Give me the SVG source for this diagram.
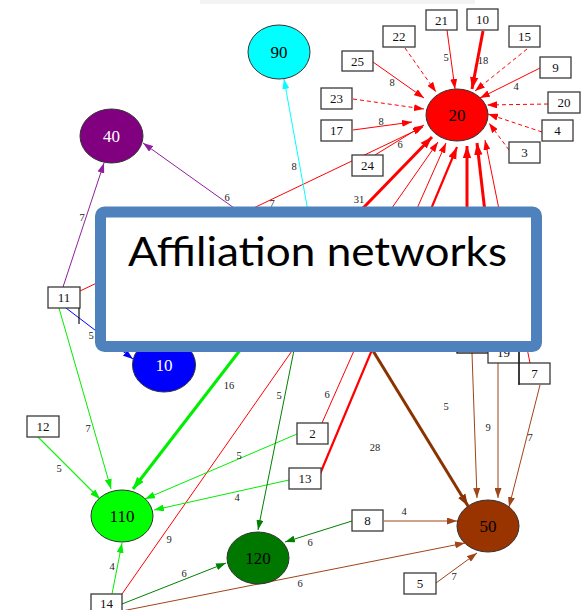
<svg xmlns="http://www.w3.org/2000/svg" width="585" height="610" viewBox="0 0 585 610">
  <style>
    .e { fill: none; stroke-width: 1; }
    .w2 { stroke-width: 2.2; }
    .w3 { stroke-width: 3; }
    .dash { stroke-dasharray: 4 3; }
    .red { stroke: #ff0000; }
    .lime { stroke: #00ee00; }
    .dkg { stroke: #008000; }
    .brn { stroke: #a0441a; }
    .brnt { stroke: #8b3300; }
    .pur { stroke: #8f1f9f; }
    .cya { stroke: #00ffff; }
    .blu { stroke: #0000ff; }
    .el { font-family: "Liberation Serif", "Times New Roman", serif; font-size: 10.5px; fill: #222; text-anchor: middle; }
    .bx rect { fill: #fff; stroke: #3a3a3a; stroke-width: 1.3; }
    .bx text { font-family: "Liberation Serif", "Times New Roman", serif; font-size: 13px; fill: #111; text-anchor: middle; }
    .ov ellipse { stroke: #333; stroke-width: 1; }
    .ov text { font-family: "Liberation Serif", "Times New Roman", serif; font-size: 17px; text-anchor: middle; }
  </style>
  <defs>
    <marker id="a-red" viewBox="0 0 10 7" refX="10" refY="3.5" markerWidth="10" markerHeight="7" markerUnits="userSpaceOnUse" orient="auto"><path d="M0,0L10,3.5L0,7z" fill="#ff0000"/></marker>
    <marker id="a-redT" viewBox="0 0 10 7" refX="10" refY="3.5" markerWidth="12" markerHeight="9" markerUnits="userSpaceOnUse" orient="auto"><path d="M0,0L10,3.5L0,7z" fill="#ff0000"/></marker>
    <marker id="a-lime" viewBox="0 0 10 7" refX="10" refY="3.5" markerWidth="10" markerHeight="7" markerUnits="userSpaceOnUse" orient="auto"><path d="M0,0L10,3.5L0,7z" fill="#00ee00"/></marker>
    <marker id="a-limeT" viewBox="0 0 10 7" refX="10" refY="3.5" markerWidth="12" markerHeight="9" markerUnits="userSpaceOnUse" orient="auto"><path d="M0,0L10,3.5L0,7z" fill="#00ee00"/></marker>
    <marker id="a-dkg" viewBox="0 0 10 7" refX="10" refY="3.5" markerWidth="10" markerHeight="7" markerUnits="userSpaceOnUse" orient="auto"><path d="M0,0L10,3.5L0,7z" fill="#008000"/></marker>
    <marker id="a-brn" viewBox="0 0 10 7" refX="10" refY="3.5" markerWidth="10" markerHeight="7" markerUnits="userSpaceOnUse" orient="auto"><path d="M0,0L10,3.5L0,7z" fill="#a0441a"/></marker>
    <marker id="a-brnT" viewBox="0 0 10 7" refX="10" refY="3.5" markerWidth="12" markerHeight="9" markerUnits="userSpaceOnUse" orient="auto"><path d="M0,0L10,3.5L0,7z" fill="#8b3300"/></marker>
    <marker id="a-pur" viewBox="0 0 10 7" refX="10" refY="3.5" markerWidth="10" markerHeight="7" markerUnits="userSpaceOnUse" orient="auto"><path d="M0,0L10,3.5L0,7z" fill="#8f1f9f"/></marker>
    <marker id="a-cya" viewBox="0 0 10 7" refX="10" refY="3.5" markerWidth="10" markerHeight="7" markerUnits="userSpaceOnUse" orient="auto"><path d="M0,0L10,3.5L0,7z" fill="#00ffff"/></marker>
    <marker id="a-blu" viewBox="0 0 10 7" refX="10" refY="3.5" markerWidth="10" markerHeight="7" markerUnits="userSpaceOnUse" orient="auto"><path d="M0,0L10,3.5L0,7z" fill="#0000ff"/></marker>
  </defs>

  <rect x="200" y="0" width="275" height="4" fill="#f3f3f3"/>

  <g id="connectors">
    <!-- into 20 -->
    <path class="e red" d="M447,30L455,89" marker-end="url(#a-red)"/>
    <path class="e red w3" d="M483,31L472,89" marker-end="url(#a-redT)"/>
    <path class="e red dash" d="M405,48L436,92" marker-end="url(#a-red)"/>
    <path class="e red dash" d="M527,49L475,91" marker-end="url(#a-red)"/>
    <path class="e red" d="M373,62L424,98" marker-end="url(#a-red)"/>
    <path class="e red" d="M540,68L480,98" marker-end="url(#a-red)"/>
    <path class="e red dash" d="M353,99L424,109" marker-end="url(#a-red)"/>
    <path class="e red dash" d="M548,104L487,105" marker-end="url(#a-red)"/>
    <path class="e red" d="M353,130L412,122" marker-end="url(#a-red)"/>
    <path class="e red dash" d="M542,132L488,114" marker-end="url(#a-red)"/>
    <path class="e red dash" d="M509,150L489,123" marker-end="url(#a-red)"/>
    <path class="e red" d="M375,155L424,125" marker-end="url(#a-red)"/>
    <path class="e red" d="M80,291L423,127" marker-end="url(#a-red)"/>
    <path class="e red w3" d="M303,270L432,137" marker-end="url(#a-redT)"/>
    <path class="e red" d="M122,594L438,142" marker-end="url(#a-red)"/>
    <path class="e red" d="M322,423L446,143" marker-end="url(#a-red)"/>
    <path class="e red w2" d="M320,474L457,147" marker-end="url(#a-redT)"/>
    <path class="e red w3" d="M467,300L467,146" marker-end="url(#a-redT)"/>
    <path class="e red w3" d="M500,342L477,143" marker-end="url(#a-redT)"/>
    <path class="e red" d="M530,363L485,140" marker-end="url(#a-red)"/>

    <!-- into 40 -->
    <path class="e pur" d="M63,287L104,163" marker-end="url(#a-pur)"/>
    <path class="e pur" d="M300,255L143,143" marker-end="url(#a-pur)"/>

    <!-- into 90 -->
    <path class="e cya" d="M315,250L284,79" marker-end="url(#a-cya)"/>

    <!-- into 10 -->
    <path class="e blu" d="M66,308L133,359" marker-end="url(#a-blu)"/>

    <!-- into 110 -->
    <path class="e lime" d="M59,308L111,489" marker-end="url(#a-lime)"/>
    <path class="e lime" style="stroke:#1cf01c;stroke-width:1.3" d="M38,437L100,499" marker-end="url(#a-lime)"/>
    <path class="e lime w3" d="M251,336L133,489" marker-end="url(#a-limeT)"/>
    <path class="e lime" d="M297,434L145,499" marker-end="url(#a-lime)"/>
    <path class="e lime" d="M289,480L154,510" marker-end="url(#a-lime)"/>
    <path class="e lime" d="M112,594L122,543" marker-end="url(#a-lime)"/>

    <!-- into 120 -->
    <path class="e dkg" d="M296,340L258,530" marker-end="url(#a-dkg)"/>
    <path class="e dkg" d="M352,521L285,542" marker-end="url(#a-dkg)"/>
    <path class="e dkg" d="M122,604L226,563" marker-end="url(#a-dkg)"/>

    <!-- into 50 -->
    <path class="e brnt w3" d="M345,305L468,506" marker-end="url(#a-brnT)"/>
    <path class="e brn" d="M472,353L477,498" marker-end="url(#a-brn)"/>
    <path class="e brn" d="M498,363L498,498" marker-end="url(#a-brn)"/>
    <path class="e brn" d="M540,385L509,507" marker-end="url(#a-brn)"/>
    <path class="e brn" d="M384,521L457,521" marker-end="url(#a-brn)"/>
    <path class="e brn" d="M122,611L465,543" marker-end="url(#a-brn)"/>
    <path class="e brn" d="M436,583L477,553" marker-end="url(#a-brn)"/>

    <!-- weights -->
    <text class="el" x="446" y="61">5</text>
    <text class="el" x="483" y="64">18</text>
    <text class="el" x="392" y="86">8</text>
    <text class="el" x="516" y="90">4</text>
    <text class="el" x="381" y="125">8</text>
    <text class="el" x="400" y="148">6</text>
    <text class="el" x="272" y="207">7</text>
    <text class="el" x="359" y="203">31</text>
    <text class="el" x="294" y="170">8</text>
    <text class="el" x="227" y="201">6</text>
    <text class="el" x="82" y="221">7</text>
    <text class="el" x="91" y="339">5</text>
    <text class="el" x="88" y="432">7</text>
    <text class="el" x="59" y="472">5</text>
    <text class="el" x="229" y="389">16</text>
    <text class="el" x="279" y="399">5</text>
    <text class="el" x="327" y="398">6</text>
    <text class="el" x="375" y="451">28</text>
    <text class="el" x="446" y="410">5</text>
    <text class="el" x="488" y="431">9</text>
    <text class="el" x="530" y="441">7</text>
    <text class="el" x="239" y="459">5</text>
    <text class="el" x="237" y="501">4</text>
    <text class="el" x="404" y="515">4</text>
    <text class="el" x="310" y="546">6</text>
    <text class="el" x="169" y="543">9</text>
    <text class="el" x="112" y="570">4</text>
    <text class="el" x="184" y="577">6</text>
    <text class="el" x="300" y="587">6</text>
    <text class="el" x="454" y="580">7</text>
  </g>

  <!-- grouped nodes -->
  <g id="node-90" class="ov"><ellipse cx="279" cy="52" rx="31" ry="27" fill="#00ffff"/><text x="279" y="58" fill="#000">90</text></g>
  <g id="node-20" class="ov"><ellipse cx="457" cy="115" rx="31" ry="26" fill="#ff0000"/><text x="457" y="121" fill="#000">20</text></g>
  <g id="node-40" class="ov"><ellipse cx="111.5" cy="136" rx="31.5" ry="27" fill="#800080"/><text x="111.5" y="142" fill="#fff">40</text></g>
  <g id="node-10" class="ov"><ellipse cx="164" cy="365" rx="31.5" ry="27" fill="#0000ff"/><text x="164" y="371" fill="#fff">10</text></g>
  <g id="node-110" class="ov"><ellipse cx="122" cy="516" rx="31" ry="26" fill="#00ff00"/><text x="122" y="522" fill="#000">110</text></g>
  <g id="node-120" class="ov"><ellipse cx="258" cy="558" rx="31" ry="26" fill="#007800"/><text x="258" y="564" fill="#000">120</text></g>
  <g id="node-50" class="ov"><ellipse cx="488" cy="526" rx="31" ry="26" fill="#993300"/><text x="488" y="532" fill="#000">50</text></g>

  <!-- member nodes -->
  <g id="m-21" class="bx"><rect x="426" y="10" width="31" height="20"/><text x="441.5" y="24.5">21</text></g>
  <g id="m-10" class="bx"><rect x="467" y="9" width="31" height="21"/><text x="482.5" y="24">10</text></g>
  <g id="m-22" class="bx"><rect x="383" y="26" width="32" height="21"/><text x="399" y="41">22</text></g>
  <g id="m-15" class="bx"><rect x="509" y="26" width="31" height="21"/><text x="524.5" y="41">15</text></g>
  <g id="m-25" class="bx"><rect x="342" y="51" width="31" height="20"/><text x="357.5" y="65.5">25</text></g>
  <g id="m-9" class="bx"><rect x="540" y="57" width="31" height="21"/><text x="555.5" y="72">9</text></g>
  <g id="m-23" class="bx"><rect x="321" y="88" width="31" height="21"/><text x="336.5" y="103">23</text></g>
  <g id="m-20" class="bx"><rect x="548" y="92" width="32" height="21"/><text x="564" y="107">20</text></g>
  <g id="m-17" class="bx"><rect x="321" y="120" width="31" height="21"/><text x="336.5" y="135">17</text></g>
  <g id="m-4" class="bx"><rect x="542" y="120" width="31" height="21"/><text x="557.5" y="135">4</text></g>
  <g id="m-24" class="bx"><rect x="352" y="155" width="31" height="21"/><text x="367.5" y="170">24</text></g>
  <g id="m-3" class="bx"><rect x="509" y="142" width="31" height="21"/><text x="524.5" y="157">3</text></g>
  <g id="m-11" class="bx"><rect x="48" y="287" width="32" height="21"/><text x="64" y="302">11</text><path d="M79,308L79,324" stroke="#111" stroke-width="1.2"/></g>
  <g id="m-12" class="bx"><rect x="27" y="416" width="32" height="21"/><text x="43" y="431">12</text></g>
  <g id="m-2" class="bx"><rect x="297" y="423" width="31" height="21"/><text x="312.5" y="438">2</text></g>
  <g id="m-13" class="bx"><rect x="289" y="468" width="32" height="21"/><text x="305" y="483">13</text></g>
  <g id="m-hidden" class="bx"><rect x="457" y="332" width="31" height="21" style="stroke:#111"/></g>
  <g id="m-19" class="bx"><rect x="488" y="342" width="31" height="21"/><text x="503.5" y="357">19</text></g>
  <g id="m-7" class="bx"><rect x="519" y="363" width="31" height="21"/><text x="534.5" y="378">7</text><path d="M519,340L519,385" stroke="#111" stroke-width="1.2"/></g>
  <g id="m-14" class="bx"><rect x="91" y="594" width="31" height="21"/><text x="106.5" y="607.5">14</text></g>
  <g id="m-8" class="bx"><rect x="352" y="510" width="31" height="21"/><text x="367.5" y="525">8</text></g>
  <g id="m-5" class="bx"><rect x="404" y="573" width="32" height="21"/><text x="420" y="588">5</text></g>

  <!-- title panel -->
  <g id="title">
    <rect x="100.5" y="212" width="436" height="134.5" rx="4" fill="#fff" stroke="#4f81bd" stroke-width="11"/>
    <text x="128" y="266" font-family="Lato, 'Open Sans', sans-serif" font-size="40" fill="#000" textLength="379" lengthAdjust="spacingAndGlyphs">Affiliation networks</text>
  </g>
</svg>
